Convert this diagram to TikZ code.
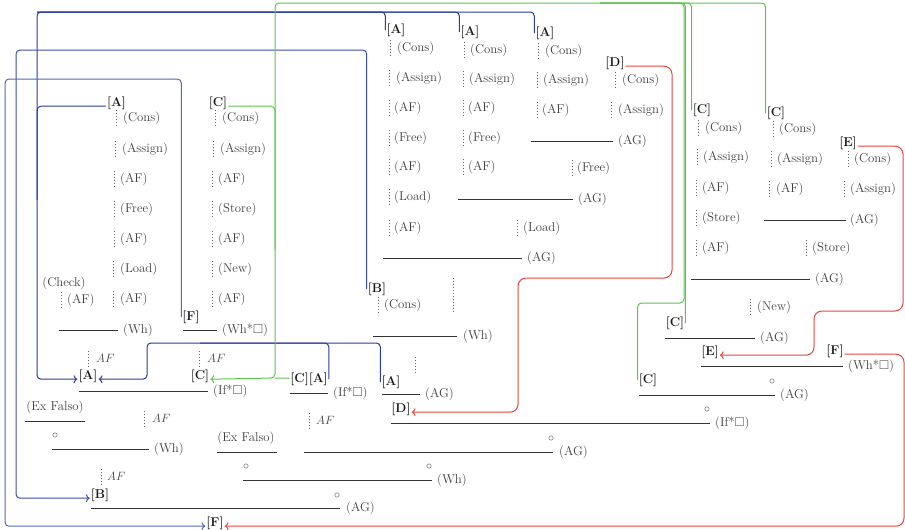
\documentclass[tikz,border=0pt]{standalone}
\usepackage{amssymb}
\usetikzlibrary{arrows.meta}
\definecolor{bA}{HTML}{2A3C9B}
\definecolor{bB}{HTML}{3A4FAA}
\definecolor{bC}{HTML}{5567BA}
\definecolor{rA}{HTML}{E5483C}
\definecolor{gA}{HTML}{5CC64C}
\newcounter{nn}
\tikzset{
  lbl/.style={inner sep=0pt, text height=9.6pt, text depth=3.2pt, text=black!75},
  brk/.style={inner sep=1pt, text height=9.6pt, text depth=3.2pt, font=\fontsize{12.8}{15}\selectfont\bfseries, text=black!90},
  dotl/.style={draw=black!60, line width=0.9pt, dash pattern=on 0.9pt off 2.1pt},
  rulel/.style={draw=black!80, line width=0.9pt},
  blu/.style={draw=bA, line width=1pt, rounded corners=4pt},
  blu2/.style={draw=bB, line width=1pt, rounded corners=4pt},
  blu3/.style={draw=bC, line width=1pt, rounded corners=4pt},
  grn/.style={draw=gA, line width=1pt, rounded corners=4pt},
  redl/.style={draw=rA, line width=1pt, rounded corners=8pt},
}
\newcommand\pRL[4]{\draw[dotl] (#1,#2-8) -- (#1,#2+8);\stepcounter{nn}\node[lbl,anchor=west] (n\arabic{nn}) at (#3,#2) {#4};}
\newcommand\pTX[3]{\stepcounter{nn}\node[lbl,anchor=west] (n\arabic{nn}) at (#1,#2) {#3};}
\newcommand\pTC[3]{\stepcounter{nn}\node[lbl] (n\arabic{nn}) at (#1,#2) {#3};}
\newcommand\pRU[3]{\draw[rulel] (#1,#3) -- (#2,#3);}
\newcommand\pDT[3]{\draw[dotl] (#1,#2) -- (#1,#3);}
\begin{document}
\begin{tikzpicture}[x=1pt,y=-1pt,font=\fontsize{12.8}{15}\selectfont]
\useasboundingbox (0,0) rectangle (905,530);
% ---------- left tree A1
\node[brk] (A1) at (116.5,103) {[A]};
\pRL{116.5}{118}{123}{(Cons)}
\pRL{115}{149}{122}{(Assign)}
\pRL{114}{179}{120}{(AF)}
\pRL{114}{209}{120}{(Free)}
\pRL{114}{239}{120}{(AF)}
\pRL{113}{269}{120}{(Load)}
\pRL{113}{299}{120}{(AF)}
\pTC{64}{283}{(Check)}
\pRL{61}{300}{67}{(AF)}
\pRU{59}{118}{330}
\pTX{123}{330}{(Wh)}
% ---------- column C1
\node[brk] (C1) at (218,103) {[C]};
\pRL{215}{118}{222}{(Cons)}
\pRL{213}{149}{220}{(Assign)}
\pRL{212}{179}{218}{(AF)}
\pRL{212}{209}{218}{(Store)}
\pRL{212}{239}{218}{(AF)}
\pRL{212}{269}{218}{(New)}
\pRL{212}{299}{218}{(AF)}
\node[brk] (F1) at (191,317) {[F]};
\pRU{183}{217}{330}
\pTX{222}{330}{(Wh*$\Box$)}
% ---------- lower left
\pRL{88}{359}{96}{$AF$}
\pRL{199}{359}{207}{$AF$}
\node[brk] (A5) at (88,376) {[A]};
\node[brk] (C6) at (200,376) {[C]};
\pRU{79}{208}{391}
\pTX{213}{391}{(If*$\Box$)}
\pTC{55}{407}{(Ex Falso)}
\pRU{25}{85}{421}
\pTC{55}{435}{$\circ$}
\pRU{52}{149}{449}
\pTX{154}{449}{(Wh)}
\pRL{144}{419}{152}{$AF$}
\pTC{246}{438}{(Ex Falso)}
\pRU{217}{277}{452}
\pTC{246}{466}{$\circ$}
\pRU{243}{432}{480}
\pTC{429}{466}{$\circ$}
\pTX{437}{480}{(Wh)}
\pRL{101}{477}{107}{$AF$}
\node[brk] (B2) at (100,495) {[B]};
\pRU{91}{340}{508}
\pTC{337}{495}{$\circ$}
\pTX{346}{508}{(AG)}
\node[brk] (F3) at (215,523) {[F]};
% ---------- middle top
\node[brk] (A2) at (396,30) {[A]};
\pRL{390}{48}{397}{(Cons)}
\pRL{389}{78}{396}{(Assign)}
\pRL{389}{108}{394}{(AF)}
\pRL{389}{138}{394}{(Free)}
\pRL{389}{167}{394}{(AF)}
\pRL{389}{197}{394}{(Load)}
\pRL{389}{228}{394}{(AF)}
\node[brk] (A3) at (470,32) {[A]};
\pRL{464}{50}{470}{(Cons)}
\pRL{463}{79}{469}{(Assign)}
\pRL{463}{108}{468}{(AF)}
\pRL{463}{138}{468}{(Free)}
\pRL{463}{167}{468}{(AF)}
\node[brk] (A4) at (545,33) {[A]};
\pRL{538}{51}{545}{(Cons)}
\pRL{537}{80}{543}{(Assign)}
\pRL{537}{110}{542}{(AF)}
\node[brk] (D1) at (615,63) {[D]};
\pRL{615}{80}{622}{(Cons)}
\pRL{611}{110}{618}{(Assign)}
\pRU{531}{613}{141}
\pTX{618}{141}{(AG)}
\pRL{572}{168}{577}{(Free)}
\pRU{458}{573}{199}
\pTX{578}{199}{(AG)}
\pRL{517}{228}{523}{(Load)}
\pRU{383}{522}{258}
\pTX{527}{258}{(AG)}
% ---------- middle lower
\node[brk] (B1) at (377,289) {[B]};
\pRL{378}{305}{384}{(Cons)}
\pDT{453}{278}{312}
\pRU{373}{457}{336}
\pTX{463}{336}{(Wh)}
\pDT{415}{357}{373}
\node[brk] (A6) at (391,382) {[A]};
\pRU{382}{420}{394}
\pTX{425}{394}{(AG)}
\node[brk] (D2) at (401,409) {[D]};
\pRU{391}{710}{423}
\pTC{707}{409}{$\circ$}
\pTX{715}{423}{(If*$\Box$)}
\node[brk] (CA) at (309,379) {[C][A]};
\pRU{290}{328}{393}
\pTX{333}{393}{(If*$\Box$)}
\pRL{309}{421}{316}{$AF$}
\pRU{304}{553}{452}
\pTC{551}{438}{$\circ$}
\pTX{559}{452}{(AG)}
% ---------- right
\node[brk] (C2) at (702,110) {[C]};
\pRL{698}{128}{705}{(Cons)}
\pRL{697}{157}{703}{(Assign)}
\pRL{696}{188}{702}{(AF)}
\pRL{696}{218}{702}{(Store)}
\pRL{696}{248}{702}{(AF)}
\node[brk] (C3) at (776,113) {[C]};
\pRL{773}{129}{779}{(Cons)}
\pRL{771}{159}{777}{(Assign)}
\pRL{769}{189}{776}{(AF)}
\pRU{764}{846}{220}
\pTX{850}{220}{(AG)}
\node[brk] (E1) at (848,143) {[E]};
\pRL{848}{159}{854}{(Cons)}
\pRL{844}{189}{850}{(Assign)}
\pRL{806}{248}{812}{(Store)}
\pRU{691}{810}{279}
\pTX{815}{279}{(AG)}
\pRL{750}{307}{757}{(New)}
\node[brk] (C4) at (675,323) {[C]};
\pRU{665}{755}{338}
\pTX{760}{338}{(AG)}
\node[brk] (E2) at (710,352) {[E]};
\node[brk] (F2) at (835,351) {[F]};
\pRU{701}{843}{366}
\pTX{848}{366}{(Wh*$\Box$)}
\node[brk] (C5) at (648,380) {[C]};
\pTC{772}{381}{$\circ$}
\pRU{639}{775}{395}
\pTX{780}{395}{(AG)}
% ---------- connectors
\coordinate (gj) at (275,378);
% blue A (left)
\draw[blu] (A2.west) |- (37,12);
\draw[blu] (A3.west) |- (37,12);
\draw[blu] (A1.base west) -| (37,200);
\draw[blu,->] (A4.west) |- (37,12) |- (A5.base west);
% blue A (right)
\draw[blu] (CA.east) |- (200,343);
\draw[blu,->] (A6.west) |- (147,343) |- (A5.base east);
% blue B
\draw[blu2,->] (B1.west) |- (16,50) |- (B2.base west);
% blue F
\draw[blu3,->] (F1.west) |- (5,79) |- (F3.base west);
% green C
\draw[grn] (C2.west) |- (275,3) -- (275,250);
\draw[grn] (C3.west) |- (600,3);
\draw[grn] (C4.east) |- (600,3);
\draw[grn] (C5.west) |- (684,303) -- (684,3) -- (600,3);
\draw[grn,->] (C1.base east) -| (gj) -- (C6.base east);
\draw[grn] (CA.west) .. controls (289,378) .. (281,378) -- (gj);
% red
\draw[redl,->] (D1.base east) -| (672,278) -| (518,350) |- (D2.base east);
\draw[redl,->] (E1.base east) -| (903,311) -| (814,330) |- (E2.base east);
\draw[redl,->] (F2.base east) -| (904,480) |- (F3.base east);
\end{tikzpicture}
\end{document}
